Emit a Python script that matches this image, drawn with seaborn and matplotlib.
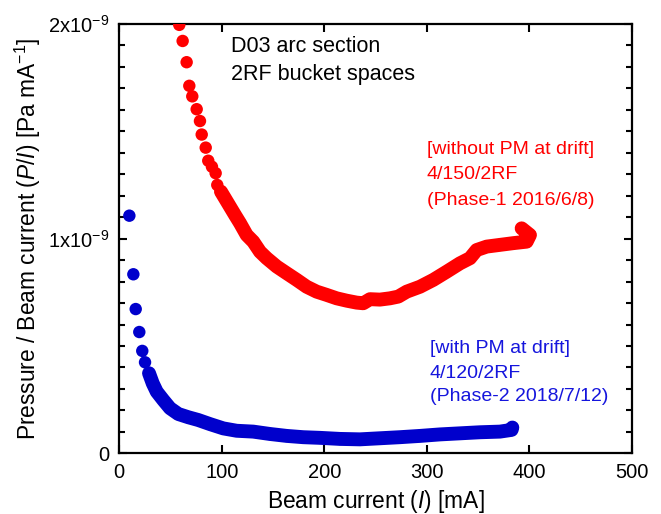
import numpy as np
import pandas as pd
import matplotlib
matplotlib.use('Agg')
import matplotlib.pyplot as plt
import seaborn as sns
from matplotlib.ticker import MultipleLocator, FixedLocator

# 측정 데이터 (그림에서 읽은 값, y 단위: 1e-9 Pa/mA)
red_sparse_x = [58.5, 61.8, 65.7, 68.3, 71.2, 75.5, 78.7, 80.4, 84.3, 86.8, 90.4, 94.0, 95.6]
red_sparse_y = [1.996, 1.921, 1.822, 1.712, 1.663, 1.603, 1.548, 1.485, 1.424, 1.363, 1.335, 1.305, 1.250]

red_dense_x = [99.2, 103.1, 108.0, 112.9, 117.8, 124.3, 130.7, 137.3, 143.8, 153.6, 163.3, 173.1,
               182.8, 192.6, 202.3, 212.1, 221.9, 231.6, 238.0, 244.6, 254.3, 264.1, 272.2, 280.4,
               293.4, 306.4, 319.4, 332.4, 342.2, 348.7, 358.5, 371.4, 384.4, 397.5, 400.7, 392.6]
red_dense_y = [1.219, 1.188, 1.149, 1.110, 1.072, 1.017, 0.986, 0.939, 0.909, 0.870, 0.839, 0.808,
               0.776, 0.753, 0.738, 0.722, 0.711, 0.702, 0.699, 0.718, 0.716, 0.722, 0.730, 0.753,
               0.776, 0.808, 0.846, 0.885, 0.909, 0.947, 0.963, 0.971, 0.979, 0.986, 1.017, 1.048]

blue_sparse_x = [9.8, 13.7, 16.0, 19.5, 22.4, 25.1]
blue_sparse_y = [1.107, 0.834, 0.672, 0.565, 0.477, 0.424]

blue_dense_x = [29.0, 32.6, 36.5, 42.9, 49.5, 57.6, 67.3, 77.1, 88.5, 101.5, 114.5, 130.7, 147.0,
                163.3, 179.5, 195.8, 215.3, 234.8, 254.3, 273.8, 293.4, 312.9, 332.4, 351.9,
                371.4, 382.8, 383.5]
blue_dense_y = [0.373, 0.326, 0.287, 0.248, 0.210, 0.183, 0.168, 0.155, 0.136, 0.116, 0.105, 0.101,
                0.090, 0.081, 0.075, 0.072, 0.067, 0.065, 0.070, 0.075, 0.081, 0.088, 0.093, 0.098,
                0.101, 0.109, 0.120]

ytick_vals = [0, 1, 2]
ytick_labels = ['0', '1x10$^{-9}$', '2x10$^{-9}$']
xtick_vals = [0, 100, 200, 300, 400, 500]

sns.set_style('ticks')
plt.rcParams['font.family'] = ['Liberation Sans', 'DejaVu Sans']
plt.rcParams['mathtext.fontset'] = 'custom'
plt.rcParams['mathtext.rm'] = 'Liberation Sans'
plt.rcParams['mathtext.it'] = 'Liberation Sans:italic'
for k in ['text.color', 'axes.labelcolor', 'xtick.color', 'ytick.color', 'axes.edgecolor']:
    plt.rcParams[k] = 'black'

RED = '#FF0000'
BLUE = '#0000CC'

fig = plt.figure(figsize=(6.61, 5.14), dpi=100)
ax = fig.add_axes([0.1805, 0.1181, 0.7752, 0.8352])

# 조밀한 구간은 굵은 선 + 점
sns.lineplot(x=red_dense_x, y=red_dense_y, sort=False, color=RED, lw=10,
             solid_capstyle='round', solid_joinstyle='round', ax=ax)
sns.lineplot(x=blue_dense_x, y=blue_dense_y, sort=False, color=BLUE, lw=10,
             solid_capstyle='round', solid_joinstyle='round', ax=ax)
sns.scatterplot(x=red_sparse_x + red_dense_x, y=red_sparse_y + red_dense_y, color=RED,
                s=80, edgecolor='none', ax=ax, zorder=3)
sns.scatterplot(x=blue_sparse_x + blue_dense_x, y=blue_sparse_y + blue_dense_y, color=BLUE,
                s=80, edgecolor='none', ax=ax, zorder=3)

ax.set_xlim(0, 500)
ax.set_ylim(0, 2)
ax.xaxis.set_major_locator(FixedLocator(xtick_vals))
ax.yaxis.set_major_locator(FixedLocator(ytick_vals))
ax.set_yticklabels(ytick_labels)
ax.yaxis.set_minor_locator(MultipleLocator(0.1))
ax.tick_params(which='both', direction='in', top=True, right=True, width=1.5, labelsize=14.5)
ax.tick_params(which='major', length=6, pad=7)
ax.tick_params(which='minor', length=4)
for sp in ax.spines.values():
    sp.set_linewidth(1.6)
    sp.set_visible(True)

ax.set_xlabel('Beam current ($\\mathit{I}$) [mA]', fontsize=16.4, labelpad=4)
ax.set_ylabel('Pressure / Beam current ($\\mathit{P/I}$) [Pa mA$^{-1}$]', fontsize=16.4, labelpad=4)

# 주석
ax.text(109, 1.895, 'D03 arc section', fontsize=15.5, va='center')
ax.text(109, 1.765, '2RF bucket spaces', fontsize=15.5, va='center')
ax.text(300, 1.414, '[without PM at drift]', fontsize=14, color=RED, va='center')
ax.text(300, 1.298, '4/150/2RF', fontsize=14, color=RED, va='center')
ax.text(300, 1.180, '(Phase-1 2016/6/8)', fontsize=14, color=RED, va='center')
ax.text(303, 0.489, '[with PM at drift]', fontsize=14, color='#1515DD', va='center')
ax.text(303, 0.373, '4/120/2RF', fontsize=14, color='#1515DD', va='center')
ax.text(303, 0.264, '(Phase-2 2018/7/12)', fontsize=14, color='#1515DD', va='center')

plt.savefig('out.png', dpi=100)
